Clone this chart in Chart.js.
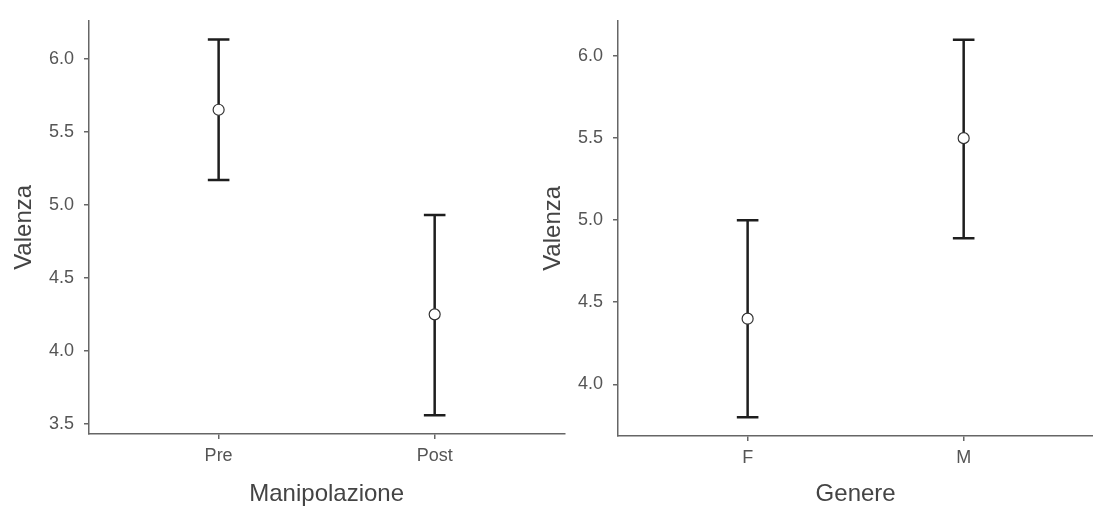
<!DOCTYPE html>
<html>
<head>
<meta charset="utf-8">
<script src="https://cdn.jsdelivr.net/npm/chart.js@4"></script>
<style>
  html, body { margin: 0; padding: 0; background: #fff; overflow: hidden; }
  #wrap { position: relative; width: 1093px; height: 506px; overflow: hidden; }
  canvas { position: absolute; top: 0; }
  #manip { left: 0; }
  #genere { left: 529px; }
</style>
</head>
<body>
<div id="wrap">
  <canvas id="manip" width="571" height="506"></canvas>
  <canvas id="genere" width="571" height="506"></canvas>
</div>
<script>
// Manipolazione panel
const manipCategories = ['Pre', 'Post'];
const manipMeans = [5.65, 4.25];
const manipLower = [5.17, 3.56];
const manipUpper = [6.13, 4.93];
const manipYTicks = [3.5, 4.0, 4.5, 5.0, 5.5, 6.0];

// Genere panel
const genereCategories = ['F', 'M'];
const genereMeans = [4.40, 5.50];
const genereLower = [3.80, 4.89];
const genereUpper = [5.00, 6.10];
const genereYTicks = [4.0, 4.5, 5.0, 5.5, 6.0];

const FONT = '"Liberation Sans", Arial, sans-serif';
const AXIS_COLOR = '#666';
const TICK_COLOR = '#555';
const TITLE_COLOR = '#444';

// draws the vertical bar and caps for each category
const errorBarsPlugin = (lower, upper) => ({
    id: 'errorBars',
    beforeDatasetsDraw(chart) {
        const { ctx, scales: { x, y } } = chart;
        ctx.save();
        ctx.strokeStyle = '#1e1e1e';
        ctx.lineWidth = 2.5;
        lower.forEach((lo, i) => {
            const xv = i + 1;
            const px = x.getPixelForValue(xv);
            const x0 = x.getPixelForValue(xv - 0.05);
            const x1 = x.getPixelForValue(xv + 0.05);
            const yl = y.getPixelForValue(lo);
            const yu = y.getPixelForValue(upper[i]);
            ctx.beginPath();
            ctx.moveTo(px, yl);
            ctx.lineTo(px, yu);
            ctx.moveTo(x0, yl);
            ctx.lineTo(x1, yl);
            ctx.moveTo(x0, yu);
            ctx.lineTo(x1, yu);
            ctx.stroke();
        });
        ctx.restore();
    }
});

function makePanel(canvasId, categories, means, lower, upper, yTicks, xTitle, topPad, xAxisHeight) {
    const lo = Math.min(...lower);
    const hi = Math.max(...upper);
    const pad = (hi - lo) * 0.05;

    const ctx = document.getElementById(canvasId).getContext('2d');
    return new Chart(ctx, {
        type: 'scatter',
        data: {
            datasets: [{
                data: means.map((m, i) => ({ x: i + 1, y: m })),
                pointRadius: 5.5,
                pointBackgroundColor: '#fff',
                pointBorderColor: '#333',
                pointBorderWidth: 1.2,
                showLine: false
            }]
        },
        options: {
            responsive: false,
            animation: false,
            devicePixelRatio: 1,
            layout: { padding: { top: topPad, left: 0, right: 0, bottom: 0 } },
            plugins: {
                legend: { display: false },
                tooltip: { enabled: false }
            },
            scales: {
                x: {
                    type: 'linear',
                    min: 0.4,
                    max: 2.6,
                    afterBuildTicks: s => { s.ticks = categories.map((c, i) => ({ value: i + 1 })); },
                    afterFit: s => { s.height = xAxisHeight; },
                    ticks: {
                        callback: v => categories[Math.round(v) - 1],
                        font: { family: FONT, size: 18 },
                        color: TICK_COLOR,
                        padding: 6,
                        maxRotation: 0
                    },
                    grid: { display: true, drawOnChartArea: false, drawTicks: true, tickLength: 5, color: AXIS_COLOR, lineWidth: 1.5 },
                    border: { display: true, color: AXIS_COLOR, width: 1.5 },
                    title: {
                        display: true,
                        text: xTitle,
                        font: { family: FONT, size: 24, lineHeight: 1 },
                        color: TITLE_COLOR,
                        padding: { top: 0, bottom: 0 }
                    }
                },
                y: {
                    type: 'linear',
                    min: lo - pad,
                    max: hi + pad,
                    afterBuildTicks: s => { s.ticks = yTicks.map(v => ({ value: v })); },
                    afterFit: s => { s.width = 89; },
                    ticks: {
                        callback: v => v.toFixed(1),
                        font: { family: FONT, size: 18 },
                        color: TICK_COLOR,
                        padding: 10
                    },
                    grid: { display: true, drawOnChartArea: false, drawTicks: true, tickLength: 5, color: AXIS_COLOR, lineWidth: 1.5 },
                    border: { display: true, color: AXIS_COLOR, width: 1.5 },
                    title: {
                        display: true,
                        text: 'Valenza',
                        font: { family: FONT, size: 24, lineHeight: 1 },
                        color: TITLE_COLOR,
                        padding: { top: 12, bottom: 0 }
                    }
                }
            }
        },
        plugins: [errorBarsPlugin(lower, upper)]
    });
}

makePanel('manip', manipCategories, manipMeans, manipLower, manipUpper, manipYTicks, 'Manipolazione', 19, 72);
makePanel('genere', genereCategories, genereMeans, genereLower, genereUpper, genereYTicks, 'Genere', 20, 70);
</script>
</body>
</html>
